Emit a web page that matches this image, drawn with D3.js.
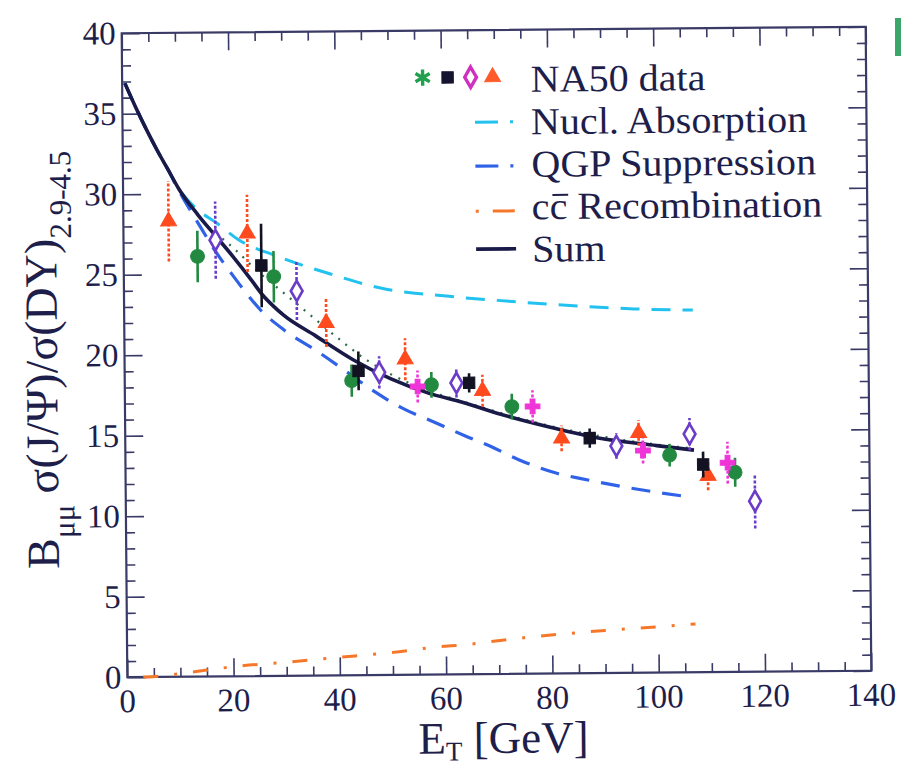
<!DOCTYPE html>
<html>
<head>
<meta charset="utf-8">
<script src="https://cdn.jsdelivr.net/npm/d3@7"></script>
<style>
  body { margin: 0; background: #fff; }
  svg { display: block; }
</style>
</head>
<body>
<svg id="chart" width="901" height="765"></svg>
<script>
// ---- data ----
// model curves: [E_T, ratio]
const sumCurve = [[0.5,36.9],[2.5,35.4],[4.5,34.0],[6.5,32.7],[8.5,31.5],[10.5,30.3],[14,28.7],[17.5,27.3],[20.5,26.1],[24,24.6],[26,23.7],[28,23.0],[30,22.4],[36,21.1],[43,19.6],[50,18.4],[57,17.5],[63.5,16.9],[70,16.2],[80,15.3],[89,14.6],[100,14.1],[107,13.8]];
const nuclAbsorption = [[0.5,36.9],[2.5,35.4],[4.5,34.0],[6.5,32.7],[8.5,31.5],[10.5,30.3],[14,29.0],[17.4,28.2],[21.7,27.1],[28.6,26.1],[39.2,24.9],[48.7,24.0],[60.7,23.5],[74,23.1],[86,22.8],[96,22.6],[107,22.5]];
const qgpSuppression = [[0.5,36.9],[2.5,35.4],[4.5,34.0],[6.5,32.7],[8.5,31.5],[10.5,30.2],[14,28.2],[17.5,26.3],[20.5,24.9],[23,23.8],[25.5,22.8],[30,21.5],[36,20.2],[42,18.8],[47,17.6],[52,16.6],[58,15.7],[64,14.8],[69,14.1],[74,13.3],[81,12.45],[87,12.0],[93,11.6],[99,11.25],[106,10.9]];
const ccRecombination = [[3,0.0],[6,0.05],[10,0.2],[15,0.4],[20,0.6],[30,0.85],[39,1.1],[50,1.4],[58,1.7],[64,1.85],[72,2.15],[82,2.45],[90,2.65],[100,2.85],[107,3.0]];
const dottedGuide = [[16,27.9],[21,26.5],[25,25.2],[30,23.8],[35,22.4],[40,21.0],[45,19.7],[55,17.9],[65,16.8],[75,15.8],[85,15.0],[95,14.4],[107,13.9]];

// NA50 points: [E_T, ratio, error]
const greenPts = [[13.9,26.1,1.6],[28.2,24.8,1.6],[42.7,18.3,1.0],[57.7,18.0,0.8],[72.8,16.6,0.8],[102.4,13.5,0.7],[114.7,12.4,0.9]];
const blackPts = [[25.9,25.5,2.6],[44.0,18.9,1.2],[64.8,18.1,0.6],[87.4,14.6,0.6],[108.7,12.9,0.8]];
const diamondPts = [[17.3,27.1,2.4],[32.5,23.9,1.8],[47.9,18.8,1.0],[62.4,18.1,0.9],[92.4,14.1,0.8],[106.2,14.8,1.0],[118.4,10.6,1.7]];
const trianglePts = [[8.5,28.3,2.5],[23.3,27.5,2.4],[38.0,21.9,1.5],[52.8,19.6,1.3],[67.3,17.6,1.0],[82.1,14.6,0.8],[96.6,14.9,0.8],[109.6,12.2,0.9]];
const magentaPts = [[55.1,17.9,1.0],[76.7,16.6,1.0],[97.4,13.8,0.8],[113.3,13.0,1.3]];

const xMajor = [0,20,40,60,80,100,120,140];
const yMajor = [0,5,10,15,20,25,30,35,40];
const legendLabels = ["NA50 data","Nucl. Absorption","QGP Suppression","cc Recombination","Sum"];

// ---- layout ----
const W = 901, H = 765;
const plotL = 124.5, plotR = 868.5, plotT = 30, plotB = 674;
const axisColor = "#3a3a66";
const FONT = "'Liberation Serif', 'Times New Roman', Times, 'DejaVu Serif', serif";
const textColor = "#1e1e4a";

const svg = d3.select("#chart");
svg.append("rect").attr("width", W).attr("height", H).attr("fill", "#fff");
// green sliver of neighbouring figure at the top-right edge
svg.append("rect").attr("x", 895).attr("y", 18).attr("width", 6).attr("height", 38).attr("fill", "#3aa66a");

// the scanned figure is turned by about half a degree
const g = svg.append("g")
	.attr("font-family", FONT)
	.attr("fill", textColor)
	.attr("transform", "rotate(-0.5," + ((plotL+plotR)/2) + "," + ((plotT+plotB)/2) + ")");

const x = d3.scaleLinear().domain([0, 140]).range([plotL, plotR]);
const y = d3.scaleLinear().domain([0, 40]).range([plotB, plotT]);

// ticks on all four sides, pointing inward
function ticks(axisFn, scale, values, size, transform) {
	const a = g.append("g")
		.attr("transform", transform)
		.call(axisFn(scale).tickValues(values).tickSize(-size).tickFormat(""));
	a.select(".domain").remove();
	a.selectAll("line").attr("stroke", axisColor).attr("stroke-width", 1.6);
}
const xMinor = d3.range(0, 141, 5).filter(v => v % 20 !== 0);
const yMinor = d3.range(0, 41, 1).filter(v => v % 5 !== 0);
ticks(d3.axisBottom, x, xMajor, 18, "translate(0," + plotB + ")");
ticks(d3.axisBottom, x, xMinor, 9, "translate(0," + plotB + ")");
ticks(d3.axisTop, x, xMajor, 18, "translate(0," + plotT + ")");
ticks(d3.axisTop, x, xMinor, 9, "translate(0," + plotT + ")");
ticks(d3.axisLeft, y, yMajor, 18, "translate(" + plotL + ",0)");
ticks(d3.axisLeft, y, yMinor, 9, "translate(" + plotL + ",0)");
ticks(d3.axisRight, y, yMajor, 18, "translate(" + plotR + ",0)");
ticks(d3.axisRight, y, yMinor, 9, "translate(" + plotR + ",0)");

g.append("rect")
	.attr("x", plotL).attr("y", plotT)
	.attr("width", plotR - plotL).attr("height", plotB - plotT)
	.attr("fill", "none").attr("stroke", axisColor).attr("stroke-width", 2.2);

// tick labels
g.selectAll(".xlab").data(xMajor).enter().append("text")
	.attr("x", d => x(d)).attr("y", plotB + 35)
	.attr("text-anchor", "middle").attr("font-size", 33)
	.text(d => d);
g.selectAll(".ylab").data(yMajor).enter().append("text")
	.attr("x", plotL - 6).attr("y", d => y(d) + 11)
	.attr("text-anchor", "end").attr("font-size", 33)
	.text(d => d);

// axis titles
const xt = g.append("text").attr("x", 415).attr("y", 753).attr("font-size", 45);
xt.append("tspan").text("E");
xt.append("tspan").attr("dy", 7).attr("font-size", 27).text("T");
xt.append("tspan").attr("dy", -7).text(" [GeV]");

const yt = g.append("text")
	.attr("transform", "translate(57," + ((plotT+plotB)/2 + 4) + ") rotate(-90)")
	.attr("text-anchor", "middle").attr("font-size", 46);
yt.append("tspan").text("B");
yt.append("tspan").attr("dy", 16).attr("font-size", 31).text("μμ");
yt.append("tspan").attr("dy", -16).text(" σ(J/Ψ)/σ(DY)");
yt.append("tspan").attr("dy", 15).attr("font-size", 31).text("2.9-4.5");

// model curves
const line = d3.line().x(d => x(d[0])).y(d => y(d[1])).curve(d3.curveMonotoneX);
const curves = [
	{data: nuclAbsorption, color: "#22c2f0", dash: "19,12", w: 3},
	{data: qgpSuppression, color: "#2f62e6", dash: "19,12", w: 3.2},
	{data: ccRecombination, color: "#f5782a", dash: "15,16,3,16", w: 3},
	{data: dottedGuide, color: "#2d6a45", dash: "2,7", w: 2.2},
	{data: sumCurve, color: "#1a1a48", dash: null, w: 3.6}
];
curves.forEach(c => {
	g.append("path").datum(c.data)
		.attr("d", line)
		.attr("fill", "none")
		.attr("stroke", c.color)
		.attr("stroke-width", c.w)
		.attr("stroke-dasharray", c.dash);
});

// data points with error bars
const sym = {
	circle: d3.symbol(d3.symbolCircle, 150),
	square: d3.symbol(d3.symbolSquare, 130),
	diamond: d3.symbol(d3.symbolDiamond, 120),
	triangle: d3.symbol(d3.symbolTriangle, 110),
	cross: d3.symbol(d3.symbolCross, 120),
	star: d3.symbol(d3.symbolAsterisk, 190)
};
const series = [
	{data: trianglePts, color: "#ff4a1e", shape: "triangle", fill: true, errDash: "3,2"},
	{data: greenPts, color: "#228a40", shape: "circle", fill: true, errDash: null},
	{data: magentaPts, color: "#f035d8", shape: "cross", fill: true, errDash: "3,2"},
	{data: diamondPts, color: "#6a3cc8", shape: "diamond", fill: false, errDash: "3,2"},
	{data: blackPts, color: "#121222", shape: "square", fill: true, errDash: null}
];
series.forEach(s => {
	const sg = g.append("g");
	sg.selectAll("line").data(s.data).enter().append("line")
		.attr("x1", d => x(d[0])).attr("x2", d => x(d[0]))
		.attr("y1", d => y(d[1] - d[2])).attr("y2", d => y(d[1] + d[2]))
		.attr("stroke", s.color).attr("stroke-width", 2.6)
		.attr("stroke-dasharray", s.errDash);
	sg.selectAll("path").data(s.data).enter().append("path")
		.attr("d", sym[s.shape])
		.attr("transform", d => "translate(" + x(d[0]) + "," + y(d[1]) + ")")
		.attr("fill", s.fill ? s.color : "#fff")
		.attr("stroke", s.color)
		.attr("stroke-width", s.fill ? 1 : 2.6);
});

// legend: 38px text stretched a little sideways, like the scan
const legendX = 533, legendY0 = 92, legendDy = 42.5;
const leg = g.append("g");
legendLabels.forEach((lab, i) => {
	const t = leg.append("text")
		.attr("x", legendX).attr("y", legendY0 + i * legendDy)
		.attr("font-size", 38)
		.text(lab);
	const node = t.node();
	const natural = node.getComputedTextLength();
	t.attr("textLength", natural * 1.055).attr("lengthAdjust", "spacingAndGlyphs");
	if (i === 3) {
		// bar over the second c
		const x0 = legendX + node.getSubStringLength(0, 1) * 1.055;
		const x1 = legendX + node.getSubStringLength(0, 2) * 1.055;
		leg.append("line")
			.attr("x1", x0 + 2).attr("x2", x1 - 1)
			.attr("y1", legendY0 + i * legendDy - 24).attr("y2", legendY0 + i * legendDy - 24)
			.attr("stroke", textColor).attr("stroke-width", 2);
	}
});
// marker row for NA50 data
const markRow = [
	{shape: "star", color: "#22a050", fill: false, x: 425},
	{shape: "square", color: "#141430", fill: true, x: 450},
	{shape: "diamond", color: "#d030c0", fill: false, x: 473},
	{shape: "triangle", color: "#ff5a2a", fill: true, x: 495}
];
markRow.forEach(m => {
	leg.append("path")
		.attr("d", sym[m.shape])
		.attr("transform", "translate(" + m.x + ",77)")
		.attr("fill", m.fill ? m.color : "#fff")
		.attr("stroke", m.color)
		.attr("stroke-width", m.fill ? 1 : 3.4);
});
// line samples
const sampleY = [122, 166, 211, 249];
[curves[0], curves[1], curves[2], curves[4]].forEach((c, i) => {
	leg.append("line")
		.attr("x1", 477).attr("x2", 517)
		.attr("y1", sampleY[i]).attr("y2", sampleY[i])
		.attr("stroke", c.color).attr("stroke-width", c.w)
		.attr("stroke-dasharray", i === 2 ? "3,14,22" : (c.dash ? "23,12,3" : null));
});
</script>
</body>
</html>
